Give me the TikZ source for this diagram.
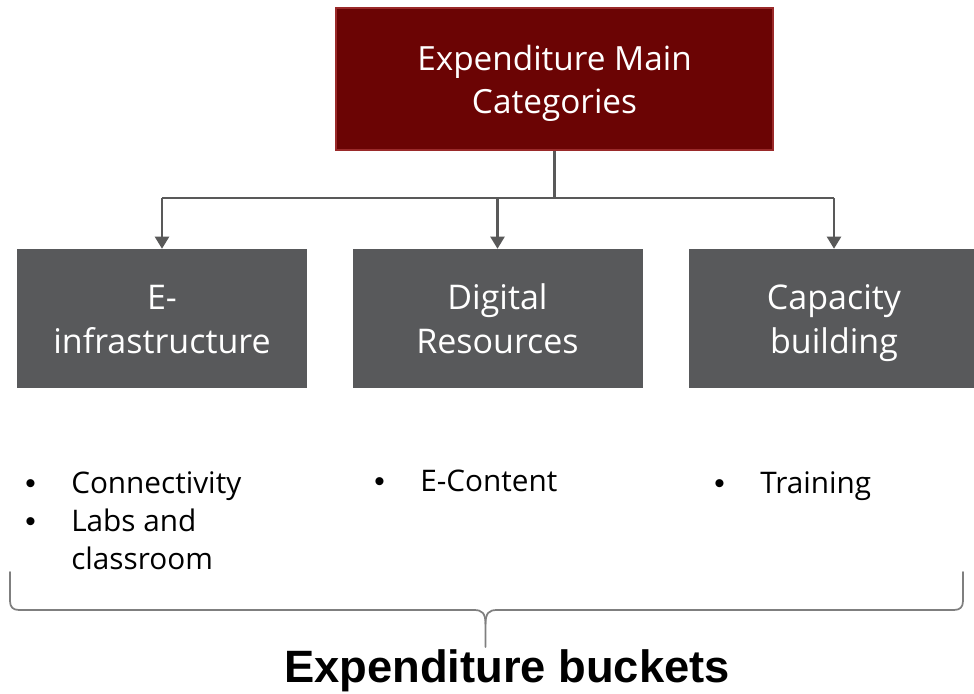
\documentclass[tikz,border=0pt]{standalone}
\usepackage{fontspec}
\setmainfont{Open Sans}
\newfontfamily\titlefont{Liberation Sans}
\usetikzlibrary{arrows.meta}

\definecolor{headred}{HTML}{6B0404}
\definecolor{headedge}{HTML}{9A2A2A}
\definecolor{boxgray}{HTML}{58595B}
\definecolor{linkgray}{HTML}{595959}
\definecolor{bracegray}{HTML}{7F7F7F}

\tikzset{
  headbox/.style={draw=headedge, line width=0.9pt, fill=headred, text=white,
    minimum width=327.75pt, minimum height=106.5pt, inner sep=0pt,
    align=center, font=\fontsize{25}{32.3}\selectfont},
  catbox/.style={fill=boxgray, text=white,
    minimum width=217.5pt, minimum height=104.25pt, inner sep=0pt,
    align=center, font=\fontsize{25.5}{33}\selectfont},
  link/.style={draw=linkgray, line width=1.6pt},
  linkarrow/.style={link, -{Triangle[length=9pt,width=10.5pt]}},
  itemlist/.style={anchor=base west, inner sep=0pt},
  bracepath/.style={draw=bracegray, line width=1.3pt},
  caption/.style={anchor=base, inner sep=0pt, font=\titlefont\bfseries\fontsize{34}{40}\selectfont}
}
% first-line strut, taller than \strut so two-line labels sit a little low
\newcommand{\headstrut}{\rule{0pt}{29pt}}
\newcommand{\itembullet}{\makebox[34.5pt][l]{{\titlefont\textbullet}}}
\newcommand{\itemtext}[1]{\parbox[t]{180pt}{\fontsize{22.3}{28.8}\selectfont #1}}

\begin{document}
\begin{tikzpicture}[x=0.75pt, y=-0.75pt]
  \useasboundingbox (0,0) rectangle (974,693);

  % top category box
  \node[headbox] (main) at (554.5,79) {\headstrut Expenditure Main\\\strut Categories};

  % the three spending categories
  \node[catbox] (infra) at (162,318.5) {\headstrut E-\\\strut infrastructure};
  \node[catbox] (digital) at (497.5,318.5) {\headstrut Digital\\\strut Resources};
  \node[catbox] (capacity) at (834,318.5) {\headstrut Capacity\\\strut building};

  % tree connector
  \coordinate (split) at (main.south |- 0,198);
  \draw[link] (main.south) -- (split);
  \draw[link] (split) -- (split -| infra.north) -- (split -| capacity.north);
  \draw[linkarrow] (split -| infra.north) -- (infra.north);
  \draw[linkarrow] (split -| digital.north) -- (digital.north);
  \draw[linkarrow] (split -| capacity.north) -- (capacity.north);

  % items under each category
  \node[itemlist] (infraitems) at (25,493)
    {\itemtext{\itembullet Connectivity\\ \itembullet Labs and\\ \hspace*{34.5pt}classroom}};
  \node[itemlist] (digitalitems) at (374,491) {\itemtext{\itembullet E-Content}};
  \node[itemlist] (capitems) at (714,493) {\itemtext{\itembullet Training}};

  % brace grouping all items
  \coordinate (bl) at (10,572);
  \coordinate (br) at (963,572);
  \coordinate (tip) at (485.5,647);
  \draw[bracepath, line cap=round, line join=round]
    (bl) -- (10,601) .. controls (10,607) and (13,610) .. (19,610)
    -- (474,610) .. controls (482,610) and (485.5,613) .. (485.5,624)
    -- (tip);
  \draw[bracepath, line cap=round, line join=round]
    (br) -- (963,601) .. controls (963,607) and (960,610) .. (954,610)
    -- (497,610) .. controls (489,610) and (485.5,613) .. (485.5,624);

  \node[caption] (buckets) at (507,682) {Expenditure buckets};
\end{tikzpicture}
\end{document}
